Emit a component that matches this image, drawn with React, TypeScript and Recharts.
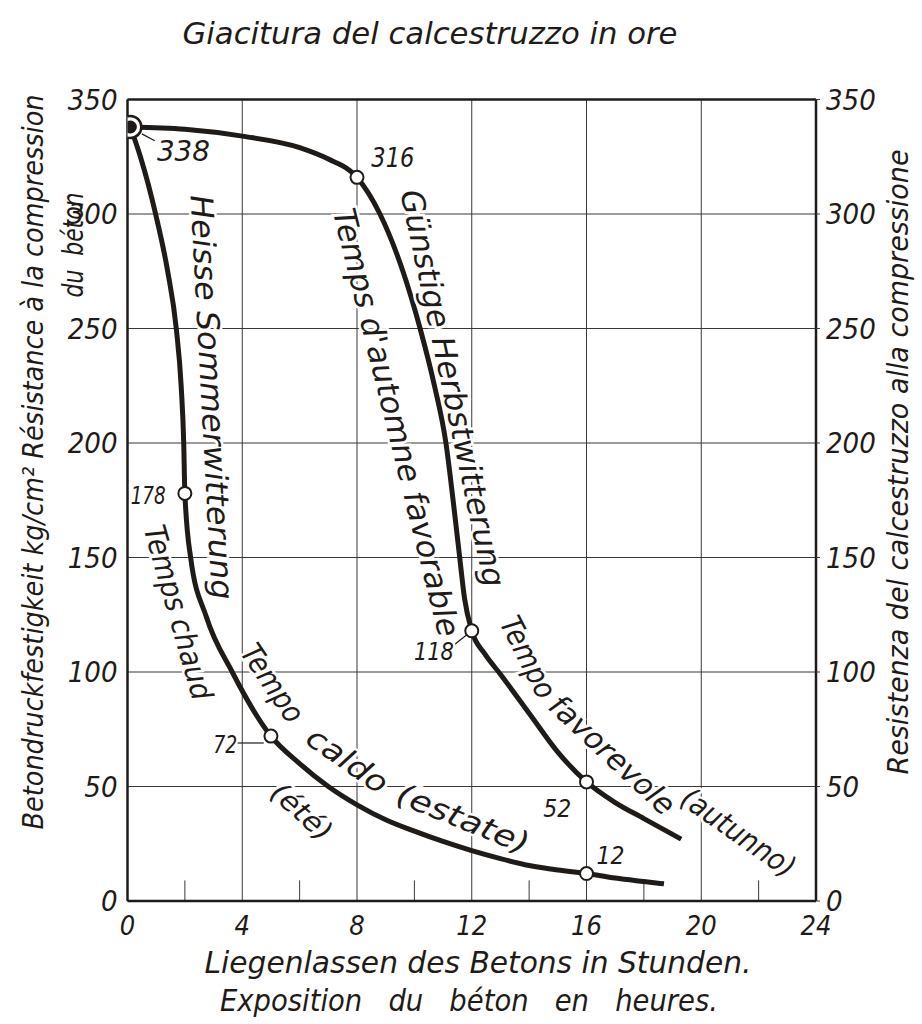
import {
    CartesianGrid,
    ComposedChart,
    Label,
    Line,
    ReferenceLine,
    Scatter,
    XAxis,
    YAxis,
} from "recharts";

const INK = "#1f1b18";
const GRID = "#3b3836";
const FONT = "'DejaVu Sans Condensed', 'Liberation Sans Narrow', 'DejaVu Sans', sans-serif";

// axes
const hourTicks = [0, 4, 8, 12, 16, 20, 24];
const minorHourTicks = [2, 6, 10, 14, 18, 22];
const strengthTicks = [0, 50, 100, 150, 200, 250, 300, 350];

// Heisse Sommerwitterung / Temps chaud / Tempo caldo
const summerHours = [0.1, 0.45, 0.98, 1.4, 1.7, 1.87, 1.96, 2, 2.2, 2.75, 3.65, 5, 6, 7, 8, 9, 10, 11, 12, 13, 14, 15, 16, 17, 18, 18.7];
const summerStrength = [338, 325, 300, 275, 250, 225, 200, 178, 150, 124, 100, 72, 60, 50, 42, 35.5, 30.5, 26, 22, 18.5, 15.5, 13.5, 12, 10, 8.5, 7.5];

// Günstige Herbstwitterung / Temps d'automne favorable / Tempo favorevole
const autumnHours = [0.1, 2, 4, 6, 7, 8, 8.8, 9.6, 10.2, 10.7, 11.1, 11.35, 11.58, 11.75, 12, 12.45, 13, 14, 15, 16, 17, 18, 19.3];
const autumnStrength = [338, 337, 334, 329, 324, 316, 300, 275, 250, 225, 200, 175, 150, 132, 118, 108, 99, 82, 65, 52, 43, 36, 27];

// marked points
const startHour = [0.1];
const startStrength = [338];
const markHours = [2, 5, 16, 8, 12, 16];
const markStrength = [178, 72, 12, 316, 118, 52];

const toPoints = (xs: number[], ys: number[]) => xs.map((x, i) => ({ x, y: ys[i] }));

const summerData = toPoints(summerHours, summerStrength);
const autumnData = toPoints(autumnHours, autumnStrength);
const startData = toPoints(startHour, startStrength);
const markData = toPoints(markHours, markStrength);

// text written along the curves, anchored in chart units
const curveNotes = [
    { text: "Heisse Sommerwitterung", x: 2.95, y: 220, angle: 87, size: 31, len: 405 },
    { text: "Temps chaud", x: 1.77, y: 126, angle: 74, size: 30, len: 180 },
    { text: "Tempo", x: 5.06, y: 95.2, angle: 56, size: 30, len: 88 },
    { text: "caldo", x: 7.67, y: 61.6, angle: 35, size: 30, len: 92 },
    { text: "(estate)", x: 11.7, y: 36, angle: 22, size: 30, len: 140 },
    { text: "(été)", x: 6.07, y: 39, angle: 42, size: 28, len: 72 },
    { text: "Günstige Herbstwitterung", x: 11.35, y: 224, angle: 78, size: 31, len: 405 },
    { text: "Temps d'automne favorable", x: 9.38, y: 209, angle: 76, size: 31, len: 440 },
    { text: "Tempo", x: 13.97, y: 106.5, angle: 63, size: 30, len: 88 },
    { text: "favorevole", x: 16.9, y: 63.8, angle: 43, size: 30, len: 160 },
    { text: "(autunno)", x: 21.3, y: 30, angle: 35, size: 30, len: 132 },
    { text: "338", x: 1.95, y: 327.5, angle: 0, size: 28, len: 53 },
    { text: "316", x: 9.25, y: 324.5, angle: 0, size: 26, len: 43 },
    { text: "178", x: 0.72, y: 177, angle: 0, size: 24, len: 35 },
    { text: "72", x: 3.41, y: 68, angle: 0, size: 24, len: 24 },
    { text: "118", x: 10.68, y: 108.7, angle: 0, size: 24, len: 40 },
    { text: "52", x: 14.98, y: 40.2, angle: 0, size: 24, len: 28 },
    { text: "12", x: 16.84, y: 19.7, angle: 0, size: 24, len: 28 },
];

const leaders = [
    { x1: 0.5, y1: 335, x2: 0.95, y2: 332 },
    { x1: 3.8, y1: 69, x2: 4.75, y2: 69 },
    { x1: 11.4, y1: 112, x2: 11.85, y2: 116.5 },
];

const textBase = { fontFamily: FONT, fontStyle: "italic" as const, fill: INK };

function NoteShape(props: any) {
    const { cx, cy, payload } = props;
    return (
        <text
            x={cx}
            y={cy}
            transform={`rotate(${payload.angle} ${cx} ${cy})`}
            textAnchor="middle"
            dominantBaseline="central"
            fontSize={payload.size}
            textLength={payload.len}
            lengthAdjust="spacingAndGlyphs"
            stroke="#fff"
            strokeWidth={5}
            style={{ ...textBase, paintOrder: "stroke" }}
        >
            {payload.text}
        </text>
    );
}

function StartShape(props: any) {
    const { cx, cy } = props;
    return (
        <g>
            <circle cx={cx} cy={cy} r={11} fill="#fff" stroke={INK} strokeWidth={2.5} />
            <circle cx={cx} cy={cy} r={6.5} fill={INK} />
        </g>
    );
}

function MarkShape(props: any) {
    const { cx, cy } = props;
    return <circle cx={cx} cy={cy} r={6.5} fill="#fff" stroke={INK} strokeWidth={2} />;
}

function HourTick(props: any) {
    const { x, y, payload } = props;
    return (
        <text x={x} y={y} textAnchor="middle" dominantBaseline="central" fontSize={27} style={textBase}>
            {payload.value}
        </text>
    );
}

function LeftTick(props: any) {
    const { x, y, payload } = props;
    return (
        <text x={x} y={y} textAnchor="end" dominantBaseline="central" fontSize={29} style={textBase}>
            {payload.value}
        </text>
    );
}

function RightTick(props: any) {
    const { x, y, payload } = props;
    return (
        <text x={x} y={y} textAnchor="start" dominantBaseline="central" fontSize={29} style={textBase}>
            {payload.value}
        </text>
    );
}

function BottomTitle() {
    return (
        <g>
            <text x={478} y={962} textAnchor="middle" dominantBaseline="central" fontSize={30}
                textLength={547} lengthAdjust="spacingAndGlyphs" style={textBase}>
                Liegenlassen des Betons in Stunden.
            </text>
            <text x={469} y={1000} textAnchor="middle" dominantBaseline="central" fontSize={30}
                textLength={498} lengthAdjust="spacingAndGlyphs" style={{ ...textBase, whiteSpace: "pre" }}>
                {"Exposition   du   béton   en   heures."}
            </text>
        </g>
    );
}

function TopTitle() {
    return (
        <text x={430} y={33} textAnchor="middle" dominantBaseline="central" fontSize={30}
            textLength={495} lengthAdjust="spacingAndGlyphs" style={textBase}>
            Giacitura del calcestruzzo in ore
        </text>
    );
}

function LeftTitle() {
    return (
        <g>
            <text transform="translate(33 462) rotate(-90)" textAnchor="middle" dominantBaseline="central"
                fontSize={28} textLength={735} lengthAdjust="spacingAndGlyphs" style={textBase}>
                Betondruckfestigkeit kg/cm² Résistance à la compression
            </text>
            <text transform="translate(73 245) rotate(-90)" textAnchor="middle" dominantBaseline="central"
                fontSize={28} textLength={105} lengthAdjust="spacingAndGlyphs" style={{ ...textBase, whiteSpace: "pre" }}>
                {"du  béton"}
            </text>
        </g>
    );
}

function RightTitle() {
    return (
        <text transform="translate(898 462) rotate(-90)" textAnchor="middle" dominantBaseline="central"
            fontSize={28} textLength={625} lengthAdjust="spacingAndGlyphs" style={textBase}>
            Resistenza del calcestruzzo alla compressione
        </text>
    );
}

export default function App() {
    return (
        <div style={{ position: "absolute", left: 0, top: 0, background: "#fff" }}>
            <ComposedChart width={922} height={1024} margin={{ top: 69.5, right: 46, bottom: 93, left: 67.5 }}>
                <CartesianGrid xAxisId="b" yAxisId="l" stroke={GRID} strokeWidth={1} />
                <XAxis xAxisId="b" dataKey="x" type="number" domain={[0, 24]} ticks={hourTicks} allowDataOverflow
                    orientation="bottom" height={30} tickLine={false} tickSize={0} tickMargin={24}
                    axisLine={{ stroke: INK, strokeWidth: 2.5 }} tick={<HourTick />}>
                    <Label content={<BottomTitle />} />
                </XAxis>
                <XAxis xAxisId="t" type="number" domain={[0, 24]} ticks={hourTicks} allowDataOverflow
                    orientation="top" height={30} tickLine={false} tickSize={0} tickMargin={24}
                    axisLine={{ stroke: INK, strokeWidth: 2.5 }} tick={<HourTick />}>
                    <Label content={<TopTitle />} />
                </XAxis>
                <YAxis yAxisId="l" dataKey="y" type="number" domain={[0, 350]} ticks={strengthTicks} allowDataOverflow
                    orientation="left" width={60} tickLine={false} tickSize={0} tickMargin={10}
                    axisLine={{ stroke: INK, strokeWidth: 2.5 }} tick={<LeftTick />}>
                    <Label content={<LeftTitle />} />
                </YAxis>
                <YAxis yAxisId="r" type="number" domain={[0, 350]} ticks={strengthTicks} allowDataOverflow
                    orientation="right" width={60} tickLine={{ stroke: GRID }} tickSize={4} tickMargin={6}
                    axisLine={{ stroke: INK, strokeWidth: 2.5 }} tick={<RightTick />}>
                    <Label content={<RightTitle />} />
                </YAxis>

                {minorHourTicks.map((h) => (
                    <ReferenceLine key={h} xAxisId="b" yAxisId="l" segment={[{ x: h, y: 0 }, { x: h, y: 9 }]}
                        stroke={GRID} strokeWidth={1} />
                ))}
                {leaders.map((l, i) => (
                    <ReferenceLine key={`ld${i}`} xAxisId="b" yAxisId="l"
                        segment={[{ x: l.x1, y: l.y1 }, { x: l.x2, y: l.y2 }]} stroke={INK} strokeWidth={1.2} />
                ))}

                <Scatter xAxisId="b" yAxisId="l" data={curveNotes} shape={<NoteShape />} isAnimationActive={false} />

                <Line xAxisId="b" yAxisId="l" data={summerData} dataKey="y" type="monotone" stroke={INK}
                    strokeWidth={5} dot={false} activeDot={false} isAnimationActive={false} />
                <Line xAxisId="b" yAxisId="l" data={autumnData} dataKey="y" type="monotone" stroke={INK}
                    strokeWidth={5} dot={false} activeDot={false} isAnimationActive={false} />

                <Scatter xAxisId="b" yAxisId="l" data={markData} shape={<MarkShape />} isAnimationActive={false} />
                <Scatter xAxisId="b" yAxisId="l" data={startData} shape={<StartShape />} isAnimationActive={false} />
            </ComposedChart>
        </div>
    );
}
